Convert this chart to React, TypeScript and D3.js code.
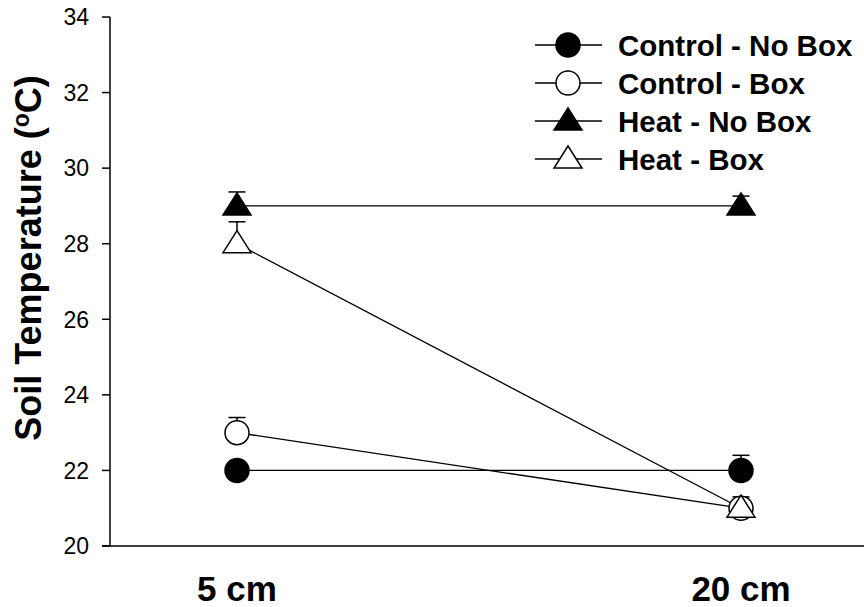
import React from "react";
import * as d3 from "d3";

const depths = ["5 cm", "20 cm"];
const seriesNames = ["Control - No Box", "Control - Box", "Heat - No Box", "Heat - Box"];
const controlNoBox = [22.0, 22.0];
const controlNoBoxErr = [0.2, 0.4];
const controlBox = [23.0, 21.0];
const controlBoxErr = [0.4, 0.3];
const heatNoBox = [29.0, 29.0];
const heatNoBoxErr = [0.37, 0.26];
const heatBox = [28.0, 21.0];
const heatBoxErr = [0.58, 0.2];
const yTicks = [20, 22, 24, 26, 28, 30, 32, 34];

const W = 864, H = 607;
const FONT = "'Liberation Sans', Arial, Helvetica, sans-serif";

export default function App() {
  const y = d3.scaleLinear().domain([20, 34]).range([546, 17]);
  const x = d3.scalePoint<string>().domain(depths).range([237, 741]);

  const series = [
    { name: seriesNames[0], vals: controlNoBox, err: controlNoBoxErr, shape: "circle", fill: "#000" },
    { name: seriesNames[1], vals: controlBox, err: controlBoxErr, shape: "circle", fill: "#fff" },
    { name: seriesNames[2], vals: heatNoBox, err: heatNoBoxErr, shape: "triangle", fill: "#000" },
    { name: seriesNames[3], vals: heatBox, err: heatBoxErr, shape: "triangle", fill: "#fff" },
  ];

  const line = d3
    .line<number>()
    .x((_, i) => x(depths[i]) as number)
    .y((d) => y(d));

  const marker = (shape: string, fill: string, cx: number, cy: number, key: string) => {
    if (shape === "circle") {
      return <circle key={key} cx={cx} cy={cy} r={12} fill={fill} stroke="#000" strokeWidth={1.5} />;
    }
    const w = 28, h = 22;
    const pts = `${cx - w / 2},${cy + 9} ${cx + w / 2},${cy + 9} ${cx},${cy + 9 - h}`;
    return <polygon key={key} points={pts} fill={fill} stroke="#000" strokeWidth={1.5} strokeLinejoin="miter" />;
  };

  return (
    <svg width={W} height={H} style={{ position: "absolute", left: 0, top: 0, background: "#fff" }}>
      <rect width={W} height={H} fill="#fff" />
      {/* axes */}
      <line x1={110} x2={110} y1={y(34)} y2={y(20)} stroke="#000" strokeWidth={1.5} />
      <line x1={102} x2={W} y1={y(20)} y2={y(20)} stroke="#000" strokeWidth={1.5} />
      {yTicks.map((t) => (
        <g key={t}>
          <line x1={102} x2={110} y1={y(t)} y2={y(t)} stroke="#000" strokeWidth={1.5} />
          <text x={89} y={y(t)} dy="0.36em" textAnchor="end" fontFamily={FONT} fontSize={23}>
            {t}
          </text>
        </g>
      ))}
      {depths.map((d) => (
        <text key={d} x={x(d)} y={601} textAnchor="middle" fontFamily={FONT} fontSize={35} fontWeight="bold">
          {d}
        </text>
      ))}
      <text
        transform={`translate(41,258) rotate(-90)`}
        textAnchor="middle"
        fontFamily={FONT}
        fontSize={36}
        fontWeight="bold"
      >
        Soil Temperature (<tspan dy={-12} fontSize={23}>o</tspan>
        <tspan dy={12}>C)</tspan>
      </text>

      {/* lines */}
      {series.map((s) => (
        <path key={s.name + "l"} d={line(s.vals) || ""} fill="none" stroke="#000" strokeWidth={1.3} />
      ))}
      {/* error bars */}
      {series.map((s) =>
        s.vals.map((v, i) => {
          const cx = x(depths[i]) as number;
          return (
            <g key={s.name + "e" + i}>
              <line x1={cx} x2={cx} y1={y(v)} y2={y(v + s.err[i])} stroke="#000" strokeWidth={1.5} />
              <line x1={cx - 8.5} x2={cx + 8.5} y1={y(v + s.err[i])} y2={y(v + s.err[i])} stroke="#000" strokeWidth={1.5} />
            </g>
          );
        })
      )}
      {/* markers */}
      {series.map((s) => s.vals.map((v, i) => marker(s.shape, s.fill, x(depths[i]) as number, y(v), s.name + "m" + i)))}

      {/* legend */}
      {series.map((s, i) => {
        const ly = 45 + i * 38;
        return (
          <g key={s.name + "leg"}>
            <line x1={535} x2={602} y1={ly} y2={ly} stroke="#000" strokeWidth={1.3} />
            {marker(s.shape, s.fill, 568, ly, s.name + "lm")}
            <text x={618} y={ly} dy="0.36em" fontFamily={FONT} fontSize={29.5} fontWeight="bold">
              {s.name}
            </text>
          </g>
        );
      })}
    </svg>
  );
}
